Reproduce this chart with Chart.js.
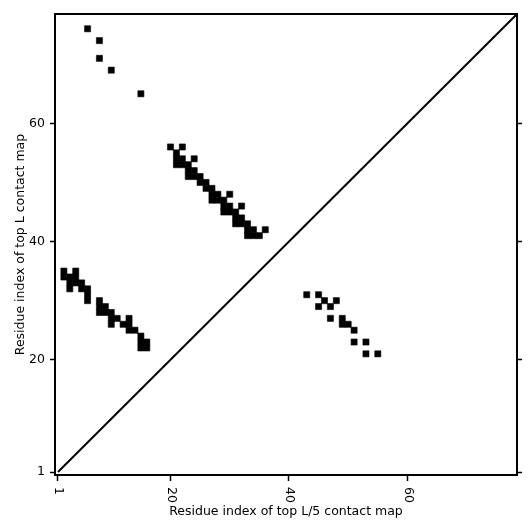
<!DOCTYPE html>
<html>
<head>
<meta charset="utf-8">
<script src="https://cdn.jsdelivr.net/npm/chart.js@4"></script>
<style>
    html, body { margin: 0; padding: 0; background: #fff; }
    #wrap { width: 531px; height: 531px; }
</style>
</head>
<body>
<div id="wrap"><canvas id="contactChart" width="531" height="531"></canvas></div>
<script>
// Contact map data (residue i on x, residue j on y)
const contactX = [
    6, 8, 8, 10, 15,
    20, 22, 21, 21, 22, 24, 21, 22, 23, 23, 24, 23, 24, 25, 25, 26, 26, 27, 27, 28, 30,
    27, 28, 29, 29, 30, 32, 29, 30, 31, 31, 32, 31, 32, 33, 33, 34, 36, 33, 34, 35,
    2, 4, 2, 3, 4, 3, 4, 5, 3, 5, 6, 6, 6, 8, 8, 9, 8, 9, 10, 10, 11, 13,
    10, 12, 13, 13, 14, 15, 15, 16, 15, 16,
    43, 45, 46, 48, 45, 47, 47, 49, 49, 50, 51, 51, 53, 53, 55
];
const contactY = [
    76, 74, 71, 69, 65,
    56, 56, 55, 54, 54, 54, 53, 53, 53, 52, 52, 51, 51, 51, 50, 50, 49, 49, 48, 48, 48,
    47, 47, 47, 46, 46, 46, 45, 45, 45, 44, 44, 43, 43, 43, 42, 42, 42, 41, 41, 41,
    35, 35, 34, 34, 34, 33, 33, 33, 32, 32, 32, 31, 30, 30, 29, 29, 28, 28, 28, 27, 27, 27,
    26, 26, 26, 25, 25, 24, 23, 23, 22, 22,
    31, 31, 30, 30, 29, 29, 27, 27, 26, 26, 25, 23, 23, 21, 21
];

// Diagonal reference line
const diagX = [1, 78.5];
const diagY = [1, 78.5];

// Axis range and ticks
const axisMin = 0.5;
const axisMax = 78.5;
const xTicks = [1, 20, 40, 60];
const yTicks = [1, 20, 40, 60];

const xTitle = 'Residue index of top L/5 contact map';
const yTitle = 'Residue index of top L contact map';

const fontFamily = '"DejaVu Sans", sans-serif';
const fontSize = 12.5;
Chart.defaults.color = '#000';
Chart.defaults.font.family = fontFamily;
Chart.defaults.font.size = fontSize;

const contactPoints = contactX.map((x, i) => ({ x: x, y: contactY[i] }));
const diagPoints = diagX.map((x, i) => ({ x: x, y: diagY[i] }));

function fixedTicks(list) {
    return function(scale) {
        scale.ticks = list.map(v => ({ value: v }));
    };
}

// x tick labels are rotated clockwise like the original
const rotatedXLabels = {
    id: 'rotatedXLabels',
    afterDraw(chart) {
        const scale = chart.scales.x;
        const ctx = chart.ctx;
        ctx.save();
        ctx.fillStyle = '#000';
        ctx.font = fontSize + 'px ' + fontFamily;
        ctx.textAlign = 'left';
        ctx.textBaseline = 'middle';
        xTicks.forEach(v => {
            const px = scale.getPixelForValue(v);
            ctx.save();
            ctx.translate(px + 0.5, scale.top + 12);
            ctx.rotate(Math.PI / 2);
            ctx.fillText(String(v), 0, 0);
            ctx.restore();
        });
        ctx.restore();
    }
};

const frameBorder = { display: true, color: '#000', width: 2 };

new Chart(document.getElementById('contactChart'), {
    type: 'scatter',
    data: {
        datasets: [{
            data: contactPoints,
            pointStyle: 'rect',
            pointRadius: 4.3,
            pointHoverRadius: 4.3,
            backgroundColor: '#000',
            borderColor: '#000',
            borderWidth: 0.6
        }, {
            type: 'line',
            data: diagPoints,
            borderColor: '#000',
            borderWidth: 2,
            pointRadius: 0,
            fill: false
        }]
    },
    options: {
        responsive: false,
        animation: false,
        devicePixelRatio: 1,
        layout: { padding: 0 },
        plugins: {
            legend: { display: false },
            tooltip: { enabled: false }
        },
        scales: {
            x: {
                type: 'linear',
                position: 'bottom',
                min: axisMin,
                max: axisMax,
                afterBuildTicks: fixedTicks(xTicks),
                afterFit: function(s) { s.height = 56; },
                border: frameBorder,
                grid: { drawOnChartArea: false, drawTicks: true, tickLength: 6, tickWidth: 1.5, color: '#000' },
                ticks: { display: false },
                title: {
                    display: true,
                    text: xTitle,
                    padding: { top: 0, bottom: 12 }
                }
            },
            x2: {
                type: 'linear',
                position: 'top',
                min: axisMin,
                max: axisMax,
                afterFit: function(s) { s.height = 14; },
                border: frameBorder,
                grid: { drawOnChartArea: false, drawTicks: false },
                ticks: { display: false }
            },
            y: {
                type: 'linear',
                position: 'left',
                min: axisMin,
                max: axisMax,
                afterBuildTicks: fixedTicks(yTicks),
                afterFit: function(s) { s.width = 55; },
                border: frameBorder,
                grid: { drawOnChartArea: false, drawTicks: true, tickLength: 5, tickWidth: 1.5, color: '#000' },
                ticks: { padding: 5 },
                title: {
                    display: true,
                    text: yTitle,
                    padding: { top: 13, bottom: 0 }
                }
            },
            y2: {
                type: 'linear',
                position: 'right',
                min: axisMin,
                max: axisMax,
                afterBuildTicks: fixedTicks(yTicks),
                afterFit: function(s) { s.width = 14; },
                border: frameBorder,
                grid: { drawOnChartArea: false, drawTicks: true, tickLength: 5, tickWidth: 1.5, color: '#000' },
                ticks: { display: false }
            }
        }
    },
    plugins: [rotatedXLabels]
});
</script>
</body>
</html>
